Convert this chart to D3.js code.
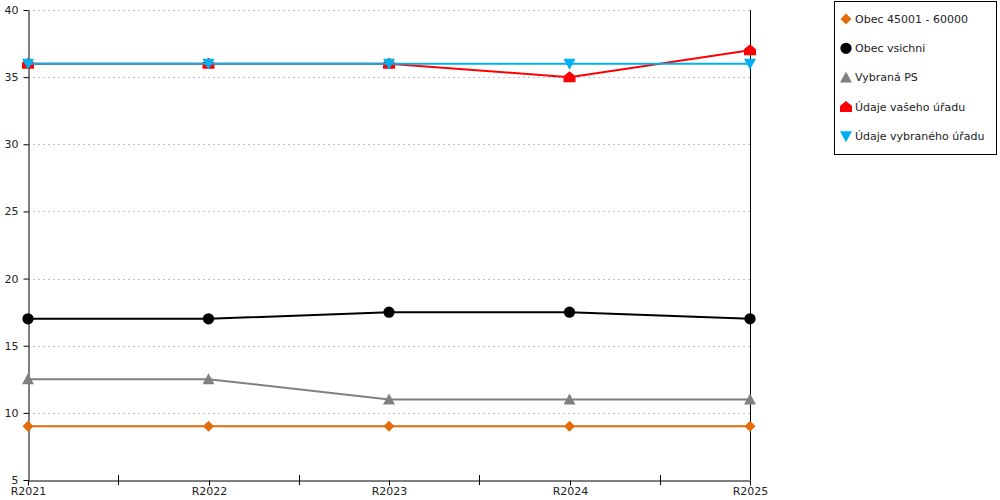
<!DOCTYPE html>
<meta charset="utf-8">
<style>
body { margin: 0; background: #fff; }
text { font-family: "DejaVu Sans", sans-serif; font-size: 11px; fill: #222; }
</style>
<svg width="1000" height="500"></svg>
<script src="https://d3js.org/d3.v7.min.js"></script>
<script>

var years = ["R2021", "R2022", "R2023", "R2024", "R2025"];
var yTicks = [5, 10, 15, 20, 25, 30, 35, 40];

var obec45 = [9, 9, 9, 9, 9];
var obecVsichni = [17, 17, 17.5, 17.5, 17];
var vybranaPS = [12.5, 12.5, 11, 11, 11];
var vasUrad = [36, 36, 36, 35, 37];
var vybranyUrad = [36, 36, 36, 36, 36];

var series = [
  {name: "Obec 45001 - 60000", values: obec45, color: "#e46c0a", marker: "diamond"},
  {name: "Obec vsichni", values: obecVsichni, color: "#000000", marker: "circle"},
  {name: "Vybraná PS", values: vybranaPS, color: "#808080", marker: "up"},
  {name: "Údaje vašeho úřadu", values: vasUrad, color: "#ff0000", marker: "house"},
  {name: "Údaje vybraného úřadu", values: vybranyUrad, color: "#00b0f0", marker: "down"}
];

var svg = d3.select("svg"),
    plotL = 28, plotR = 750, plotT = 10, plotB = 480;

var x = d3.scalePoint().domain(years).range([plotL, plotR]);
var y = d3.scaleLinear().domain([5, 40]).range([plotB, plotT]);

// grid
svg.append("g").selectAll("line")
  .data(yTicks.filter(d => d > 5))
  .join("line")
    .attr("x1", plotL).attr("x2", plotR)
    .attr("y1", d => Math.round(y(d)) + 0.5).attr("y2", d => Math.round(y(d)) + 0.5)
    .attr("stroke", "#c0c0c0").attr("stroke-dasharray", "2,3");

// y axis
var yAxis = svg.append("g")
    .attr("transform", "translate(" + (plotL + 0.5) + ",0)")
    .call(d3.axisLeft(y).tickValues(yTicks).tickSize(5).tickPadding(5).tickSizeOuter(0));
yAxis.select(".domain").attr("stroke", "#000");
yAxis.selectAll(".tick line").attr("stroke", "#000");
yAxis.selectAll("text").attr("font-size", 11.5).attr("font-family", "DejaVu Sans").attr("fill", "#222");

// x axis with minor ticks between categories
var xAxis = svg.append("g")
    .attr("transform", "translate(0," + (plotB + 0.5) + ")")
    .call(d3.axisBottom(x).tickSize(5).tickPadding(2).tickSizeOuter(0));
xAxis.select(".domain").attr("stroke", "#000");
xAxis.selectAll(".tick line").attr("stroke", "#000");
xAxis.selectAll("text").attr("font-size", 11).attr("font-family", "DejaVu Sans").attr("fill", "#222");
xAxis.selectAll(".tick").attr("transform", d => "translate(" + (Math.round(x(d)) + 0.5) + ",0)");
svg.append("g").selectAll("line")
  .data(d3.pairs(years))
  .join("line")
    .attr("x1", d => Math.round((x(d[0]) + x(d[1])) / 2) + 0.5)
    .attr("x2", d => Math.round((x(d[0]) + x(d[1])) / 2) + 0.5)
    .attr("y1", plotB - 5).attr("y2", plotB + 5)
    .attr("stroke", "#000");

// right border
svg.append("line")
    .attr("x1", plotR + 0.5).attr("x2", plotR + 0.5)
    .attr("y1", plotT).attr("y2", plotB)
    .attr("stroke", "#000");

function markerPath(type) {
  switch (type) {
    case "diamond": return "M0,-5.5L5.5,0L0,5.5L-5.5,0Z";
    case "circle": return d3.symbol(d3.symbolCircle, 100)();
    case "up": return "M0,-6L6,5L-6,5Z";
    case "down": return "M0,6L6,-5L-6,-5Z";
    case "house": return "M0,-6L6,-1L6,5L-6,5L-6,-1Z";
  }
}

var line = d3.line().x((d, i) => x(years[i])).y(d => y(d));

var sg = svg.append("g").selectAll("g")
  .data(series)
  .join("g");

sg.append("path")
    .attr("d", d => line(d.values))
    .attr("fill", "none")
    .attr("stroke", d => d.color)
    .attr("stroke-width", 2);

sg.each(function(s) {
  d3.select(this).selectAll(".m")
    .data(s.values)
    .join("path")
      .attr("class", "m")
      .attr("transform", (d, i) => "translate(" + x(years[i]) + "," + y(d) + ")")
      .attr("d", markerPath(s.marker))
      .attr("fill", s.color);
});

// legend
var lg = svg.append("g");
lg.append("rect")
    .attr("x", 834.5).attr("y", 1.5).attr("width", 162).attr("height", 153)
    .attr("fill", "#fff").attr("stroke", "#000");
var li = lg.selectAll("g")
  .data(series)
  .join("g")
    .attr("transform", (d, i) => "translate(846," + (19 + i * 29.3) + ")");
li.append("path")
    .attr("d", d => markerPath(d.marker))
    .attr("fill", d => d.color);
li.append("text")
    .attr("x", 9).attr("dy", "0.35em")
    .attr("font-size", 11.5)
    .text(d => d.name);

</script>
